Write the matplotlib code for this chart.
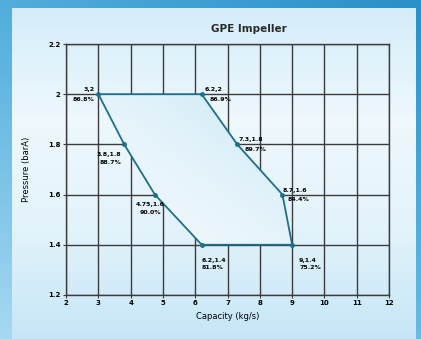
import numpy as np
import matplotlib
matplotlib.use("Agg")
import matplotlib.pyplot as plt
from matplotlib.patches import Polygon
from matplotlib.colors import LinearSegmentedColormap

# operating envelope (capacity kg/s, pressure barA)
capacity = [3, 6.2, 7.3, 8.7, 9, 6.2, 4.75, 3.8]
pressure = [2, 2, 1.8, 1.6, 1.4, 1.4, 1.6, 1.8]
efficiency = ["86.8%", "86.9%", "89.7%", "84.4%", "75.2%", "81.8%", "90.0%", "88.7%"]
cap_labels = ["3,2", "6.2,2", "7.3,1.8", "8.7,1.6", "9,1.4", "6.2,1.4", "4.75,1.6", "3.8,1.8"]

xticks = list(range(2, 13))
yticks = [1.2, 1.4, 1.6, 1.8, 2.0, 2.2]
ytick_labels = ["1.2", "1.4", "1.6", "1.8", "2", "2.2"]

line_col = "#1d6f8c"
grid_col = "#3c3c3c"

fig = plt.figure(figsize=(4.21, 3.39), dpi=100)

# background: blue frame with light inner panel
bg = fig.add_axes([0, 0, 1, 1])
bg.axis("off")
outer = LinearSegmentedColormap.from_list("outer", ["#a6d8f2", "#5cb4e0", "#2a90c8"])
ox, oy = np.meshgrid(np.linspace(0, 1, 100), np.linspace(0, 1, 100))
bg.imshow(0.6 * oy + 0.4 * ox, extent=[0, 1, 0, 1], origin="lower",
          aspect="auto", cmap=outer, vmin=0, vmax=1, zorder=0)
inner = LinearSegmentedColormap.from_list("inner", ["#c6e6f7", "#e3f3fb", "#eef8fd", "#d4edf9"])
ix, iy = np.meshgrid(np.linspace(0, 1, 100), np.linspace(0, 1, 100))
bg.imshow(iy, extent=[12/421, 416/421, 0, 1 - 8/339], origin="lower",
          aspect="auto", cmap=inner, zorder=1)
bg.set_xlim(0, 1)
bg.set_ylim(0, 1)

ax = fig.add_axes([0.157, 0.130, 0.767, 0.740])
ax.patch.set_alpha(0)
ax.set_xlim(2, 12)
ax.set_ylim(1.2, 2.2)
ax.set_xticks(xticks)
ax.set_yticks(yticks)
ax.set_xticklabels([str(t) for t in xticks], fontsize=5, fontweight="bold")
ax.set_yticklabels(ytick_labels, fontsize=5, fontweight="bold")
ax.tick_params(length=2, width=0.8, pad=2, color=grid_col)
ax.grid(True, color=grid_col, linewidth=1.0)
for s in ax.spines.values():
    s.set_color(grid_col)
    s.set_linewidth(1.0)
ax.set_axisbelow(True)

# gradient-filled envelope
poly = Polygon(list(zip(capacity, pressure)), closed=True, facecolor="none",
               edgecolor=line_col, linewidth=1.3, zorder=4)
ax.add_patch(poly)
fill_cmap = LinearSegmentedColormap.from_list("fill", ["#ffffff", "#e2f2fa", "#aedcf1"])
gx, gy = np.meshgrid(np.linspace(0, 1, 200), np.linspace(0, 1, 200))
grad = (gx + (1 - gy)) / 2
im = ax.imshow(grad, extent=[2, 12, 1.2, 2.2], origin="upper", aspect="auto",
               cmap=fill_cmap, zorder=3)
im.set_clip_path(poly)
ax.plot(capacity, pressure, "o", color=line_col, markersize=2.5, zorder=5)

# point labels: (dx, dy) offsets in points, alignment
offs = [(-3, 0, "right"), (2, 0, "left"), (1, 0, "left"), (0, 0, "left"),
        (5, -14, "left"), (0, -14, "left"), (-3, -10, "center"), (-2, -10, "right")]
for x, y, c, e, (dx, dy, ha) in zip(capacity, pressure, cap_labels, efficiency, offs):
    if dy == 0:
        ax.annotate(c, (x, y), xytext=(dx, 1.5), textcoords="offset points",
                    ha=ha, va="bottom", fontsize=4.5, fontweight="bold", zorder=6)
        ax.annotate(e, (x, y), xytext=(dx + (4 if ha == "left" else 0), -2),
                    textcoords="offset points", ha=ha, va="top",
                    fontsize=4.5, fontweight="bold", zorder=6)
    else:
        ax.annotate(c + "\n" + e, (x, y), xytext=(dx, dy), textcoords="offset points",
                    ha=ha, va="center", fontsize=4.5, fontweight="bold",
                    linespacing=1.6, zorder=6)

ax.set_title("GPE Impeller", fontsize=7.5, fontweight="bold", pad=9,
             color="#2a2a2a", x=0.565)
ax.set_xlabel("Capacity (kg/s)", fontsize=6, labelpad=4)
ax.set_ylabel("Pressure (barA)", fontsize=6, labelpad=12)

fig.savefig("out.png", dpi=100)
